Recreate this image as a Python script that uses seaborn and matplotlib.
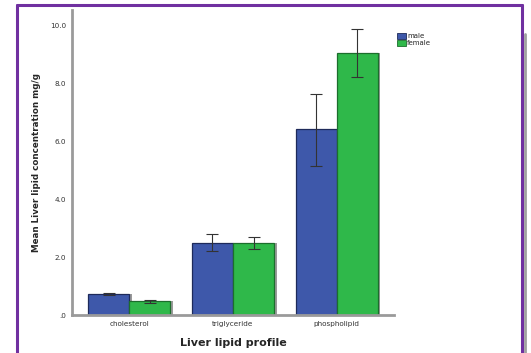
import matplotlib
matplotlib.use("Agg")
import matplotlib.pyplot as plt
import matplotlib.patches as mpatches
import seaborn as sns
import pandas as pd

# Mean liver lipid concentrations (mg/g) with error-bar half widths
lipids = ["cholesterol", "triglyceride", "phospholipid"]
sexes = ["male", "female"]
male_means = [0.72, 2.50, 6.40]
female_means = [0.48, 2.48, 9.04]
male_err_low = [0.03, 0.28, 1.25]
male_err_high = [0.03, 0.30, 1.22]
female_err_low = [0.05, 0.20, 0.82]
female_err_high = [0.05, 0.22, 0.84]
y_ticks = [0, 2, 4, 6, 8, 10]
y_tick_labels = [".0", "2.0", "4.0", "6.0", "8.0", "10.0"]

df = pd.DataFrame({
    "lipid": lipids * 2,
    "sex": ["male"] * 3 + ["female"] * 3,
    "mean": male_means + female_means,
})

palette = {"male": "#3e58aa", "female": "#2fb84a"}
edge = {"male": "#1e2a5a", "female": "#1c6e2c"}

sns.set_style("white")
fig = plt.figure(figsize=(5.31, 3.53), dpi=100)
ax = fig.add_axes([0.1356, 0.1076, 0.6064, 0.8641])

sns.barplot(data=df, x="lipid", y="mean", hue="sex", hue_order=sexes,
            order=lipids, palette=palette, saturation=1, width=0.79, ax=ax,
            errorbar=None, legend=False, zorder=3)

# bar edges, drop shadows and error bars
bars = ax.patches
lows = male_err_low + female_err_low
highs = male_err_high + female_err_high
means = male_means + female_means
for i, p in enumerate(bars):
    s = "male" if i < 3 else "female"
    p.set_edgecolor(edge[s])
    p.set_linewidth(0.9)
    x, w, h = p.get_x(), p.get_width(), p.get_height()
    sh = mpatches.Rectangle((x + 0.025, 0), w, h, facecolor="#9a9a9a",
                            edgecolor="none", zorder=2)
    ax.add_patch(sh)
    cx = x + w / 2
    ax.errorbar(cx, means[i], yerr=[[lows[i]], [highs[i]]], fmt="none",
                ecolor="#333333", elinewidth=0.8, capsize=4.5,
                capthick=0.8, zorder=5)

ax.set_xlim(-0.55, 2.55)
ax.set_ylim(0, 10.52)
ax.set_yticks(y_ticks)
ax.set_yticklabels(y_tick_labels)
ax.set_xticks(range(len(lipids)))
ax.set_xticklabels(["cholesterol", "triglyceride", "phospholipid"])

for side in ["top", "right"]:
    ax.spines[side].set_visible(False)
for side in ["left", "bottom"]:
    ax.spines[side].set_color("#9a9a9a")
    ax.spines[side].set_linewidth(2.0)
    ax.spines[side].set_zorder(6)

ax.tick_params(axis="both", which="both", direction="out", length=3,
               width=0.8, color="#333333", labelsize=5.2,
               labelcolor="#333333", pad=1)

ax.set_ylabel("Mean Liver lipid concentration mg/g", fontsize=6.3,
              fontweight="bold", labelpad=7)
ax.set_xlabel("Liver lipid profile", fontsize=8, fontweight="bold",
              labelpad=8)

handles = [mpatches.Patch(facecolor=palette[s], edgecolor=edge[s],
                          linewidth=0.6, label=s) for s in sexes]
fig.legend(handles=handles, loc="upper left",
           bbox_to_anchor=(0.742, 0.915), frameon=False, fontsize=5,
           handlelength=1.3, handleheight=0.9, handletextpad=0.2,
           labelspacing=0.15, borderaxespad=0)

# purple page frame
frame_color = "#7030a0"
fig.add_artist(plt.Line2D([0.032, 0.032], [0, 0.986], color=frame_color,
                          lw=2.2, transform=fig.transFigure))
fig.add_artist(plt.Line2D([0.032, 0.983], [0.986, 0.986], color=frame_color,
                          lw=2.2, transform=fig.transFigure))
fig.add_artist(plt.Line2D([0.983, 0.983], [0, 0.986], color=frame_color,
                          lw=2.2, transform=fig.transFigure))
fig.add_artist(plt.Line2D([0.9895, 0.9895], [0, 0.905], color="#a0a0a0",
                          lw=2.0, transform=fig.transFigure))

fig.savefig("out.png", dpi=100)
